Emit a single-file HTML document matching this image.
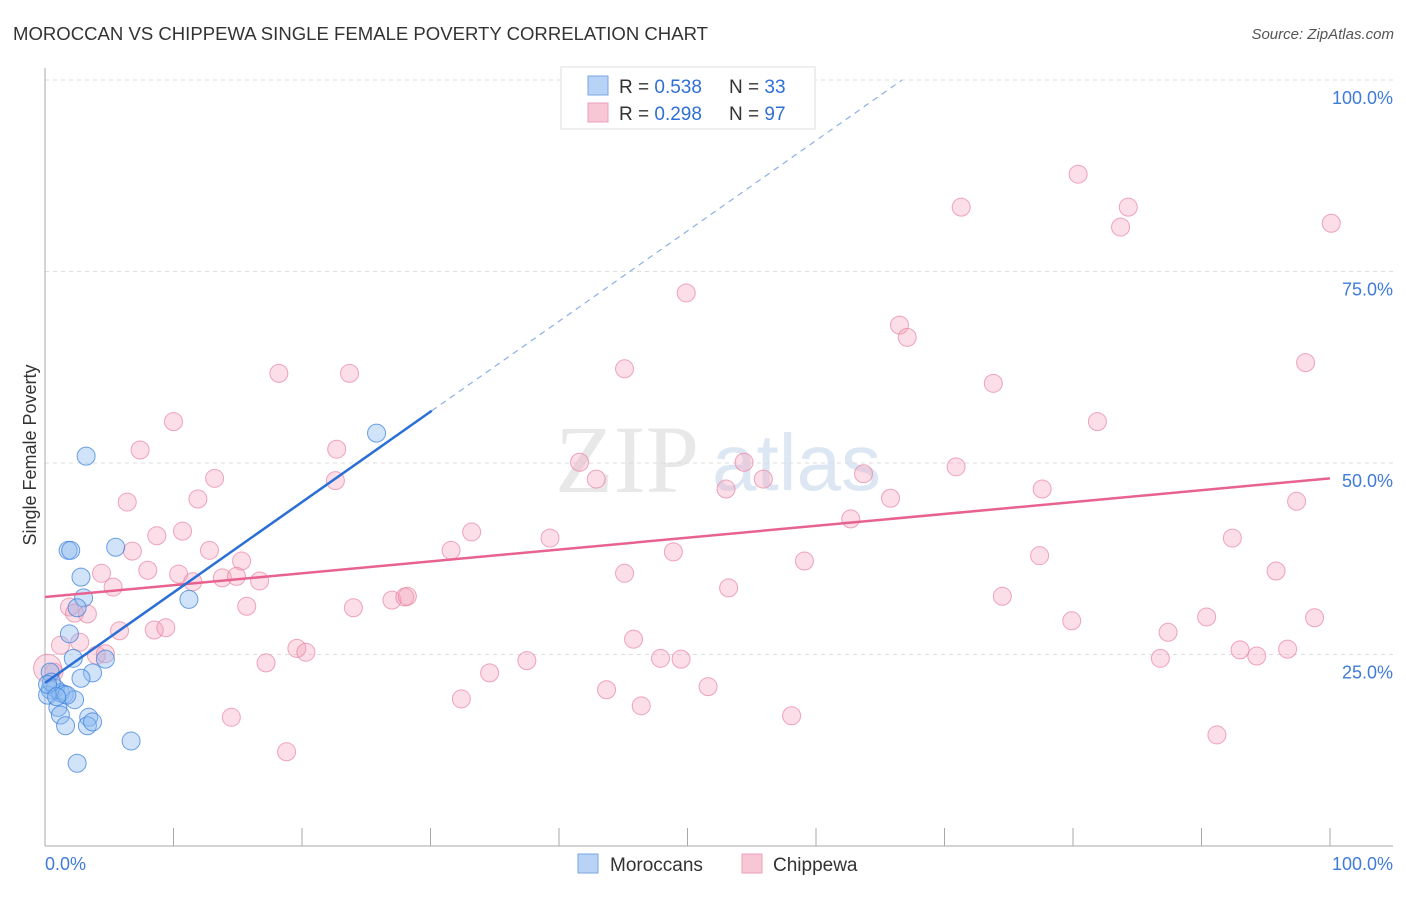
<!DOCTYPE html>
<html><head><meta charset="utf-8"><style>
body{margin:0;background:#fff;font-family:"Liberation Sans",sans-serif}
</style></head><body>
<svg id="c" width="1406" height="892" xmlns="http://www.w3.org/2000/svg">
<text x="13" y="40" font-size="18" fill="#333" textLength="695" lengthAdjust="spacingAndGlyphs">MOROCCAN VS CHIPPEWA SINGLE FEMALE POVERTY CORRELATION CHART</text>
<text x="1394" y="39" font-size="15" fill="#555" text-anchor="end" font-style="italic">Source: ZipAtlas.com</text>
<text x="555" y="492" font-size="96" fill="#e8e8e8" font-family="Liberation Serif,serif">ZIP</text>
<text x="712" y="490" font-size="80" fill="#dde7f3">atlas</text>
<text x="36" y="455" font-size="18" fill="#333" transform="rotate(-90 36 455)" text-anchor="middle">Single Female Poverty</text>
<g id="grid"></g><g id="pts"></g><g id="lines"></g>
<g>
<rect x="561" y="67" width="254" height="62" fill="#fff" stroke="#ddd"/>
<rect x="588" y="76" width="20" height="19" fill="#b8d3f5" stroke="#7aa6e0"/>
<rect x="588" y="103" width="20" height="19" fill="#f8c7d5" stroke="#eaa0b8"/>
<text x="619" y="93" font-size="19" fill="#333">R = <tspan fill="#2f6fd6">0.538</tspan></text>
<text x="729" y="93" font-size="19" fill="#333">N = <tspan fill="#2f6fd6">33</tspan></text>
<text x="619" y="120" font-size="19" fill="#333">R = <tspan fill="#2f6fd6">0.298</tspan></text>
<text x="729" y="120" font-size="19" fill="#333">N = <tspan fill="#2f6fd6">97</tspan></text>
</g>
<g>
<rect x="578" y="854" width="20" height="19" fill="#b8d3f5" stroke="#7aa6e0"/>
<text x="610" y="871" font-size="19" fill="#333">Moroccans</text>
<rect x="742" y="854" width="20" height="19" fill="#f8c7d5" stroke="#eaa0b8"/>
<text x="773" y="871" font-size="19" fill="#333">Chippewa</text>
</g>
</svg>
<script>
const yTicks=[25,50,75,100];
const yTickLabels=["25.0%","50.0%","75.0%","100.0%"];
const xTickLabels=["0.0%","100.0%"];
const blueX=[3.2,5.5,1.8,2.0,2.8,3.0,11.2,25.8,2.5,1.9,2.2,4.7,3.7,2.8,0.4,0.4,0.8,1.2,1.5,0.2,2.3,1.0,1.2,3.4,1.6,3.3,3.7,6.7,2.5,0.5,0.2,1.7,0.9];
const blueY=[50.9,39.0,38.6,38.6,35.1,32.4,32.2,53.9,31.1,27.7,24.5,24.4,22.6,21.9,22.7,20.4,20.6,20.0,19.8,19.7,19.1,18.1,17.1,16.8,15.7,15.7,16.2,13.7,10.8,21.4,21.1,19.7,19.5];
const pinkX=[80.4,71.3,84.3,83.7,100.1,49.9,66.5,67.1,18.2,23.7,45.1,98.1,73.8,10.0,81.9,7.4,22.7,41.6,54.4,70.9,13.2,22.6,42.9,55.9,63.7,53.0,77.6,6.4,11.9,65.8,97.4,62.7,10.7,33.2,8.7,39.3,92.4,12.8,6.8,31.6,48.9,15.3,59.1,77.4,8.0,10.4,13.8,14.9,16.7,4.4,11.5,45.1,5.3,95.8,53.2,15.7,24.0,27.0,28.0,28.2,1.9,2.3,3.3,74.5,90.4,98.8,79.9,5.8,8.5,9.4,2.7,1.2,45.8,87.4,19.6,20.3,4.0,4.7,93.0,94.3,96.7,47.9,49.5,86.8,37.5,17.2,34.6,0.7,51.6,43.7,32.4,46.4,14.5,58.1,18.8,91.2,0.2];
const pinkY=[87.7,83.4,83.4,80.8,81.3,72.2,68.0,66.4,61.7,61.7,62.3,63.1,60.4,55.4,55.4,51.7,51.8,50.1,50.1,49.5,48.0,47.7,47.9,47.9,48.6,46.6,46.6,44.9,45.3,45.4,45.0,42.7,41.1,41.0,40.5,40.2,40.2,38.6,38.5,38.6,38.4,37.2,37.2,37.9,36.0,35.5,35.0,35.2,34.6,35.6,34.5,35.6,33.8,35.9,33.7,31.3,31.1,32.1,32.5,32.6,31.2,30.4,30.3,32.6,29.9,29.8,29.4,28.1,28.2,28.5,26.6,26.2,27.0,27.9,25.8,25.3,24.9,25.1,25.6,24.8,25.7,24.5,24.4,24.5,24.2,23.9,22.6,22.7,20.8,20.4,19.2,18.3,16.8,17.0,12.3,14.5,23.2];
const blueTrend=[21.3,1.18];
const pinkTrend=[32.5,0.155];
const X=v=>45+v*12.85, Y=v=>846-v*7.66;
const NS="http://www.w3.org/2000/svg";
function mk(p,t,a){const e=document.createElementNS(NS,t);for(const k in a)e.setAttribute(k,a[k]);p.appendChild(e);return e;}
const g=document.getElementById('grid');
yTicks.forEach((t,i)=>{
 const l=mk(g,'line',{x1:45,x2:1393,y1:Y(t),y2:Y(t),stroke:'#ddd','stroke-dasharray':'4,4'});
 
 
 const tx=mk(g,'text',{x:1393,y:Y(t)+24,'font-size':18,fill:'#3f7bd8','text-anchor':'end'});
 tx.textContent=yTickLabels[i];
 
 
});
mk(g,'line',{x1:45,x2:45,y1:68,y2:846,stroke:'#aaa'});
mk(g,'line',{x1:45,x2:1393,y1:846,y2:846,stroke:'#aaa'});
for(let i=0;i<=10;i++){mk(g,'line',{x1:X(i*10),x2:X(i*10),y1:828,y2:846,stroke:'#aaa'});}
[[0,'start'],[100,'end']].forEach((d,i)=>{
 const tx=mk(g,'text',{x:i?1393:45,y:870,'font-size':18,fill:'#3f7bd8','text-anchor':d[1]});
 tx.textContent=xTickLabels[i];
 
 
});
const P=document.getElementById('pts');
pinkX.forEach((x,i)=>{
 const c=mk(P,'circle',{cx:X(x),cy:Y(pinkY[i]),r:i==pinkX.length-1?14:9,fill:'rgba(244,160,186,0.35)',stroke:'rgba(232,130,160,0.7)','stroke-width':1});
 
 
});
blueX.forEach((x,i)=>{
 const c=mk(P,'circle',{cx:X(x),cy:Y(blueY[i]),r:9,fill:'rgba(140,185,240,0.4)',stroke:'rgba(60,130,220,0.75)','stroke-width':1});
 
 
});
const L=document.getElementById('lines');
const pl=mk(L,'line',{x1:X(0),y1:Y(pinkTrend[0]),x2:X(100),y2:Y(pinkTrend[0]+100*pinkTrend[1]),stroke:'#e8628f','stroke-width':2.5});


const xs=30.1, xe=(100-blueTrend[0])/blueTrend[1];
const bl=mk(L,'line',{x1:X(0),y1:Y(blueTrend[0]),x2:X(xs),y2:Y(blueTrend[0]+xs*blueTrend[1]),stroke:'#2a6fd6','stroke-width':2.5});


const bd=mk(L,'line',{x1:X(xs),y1:Y(blueTrend[0]+xs*blueTrend[1]),x2:X(xe),y2:Y(100),stroke:'#8ab0e6','stroke-width':1.2,'stroke-dasharray':'6,5'});


</script>
</body></html>
